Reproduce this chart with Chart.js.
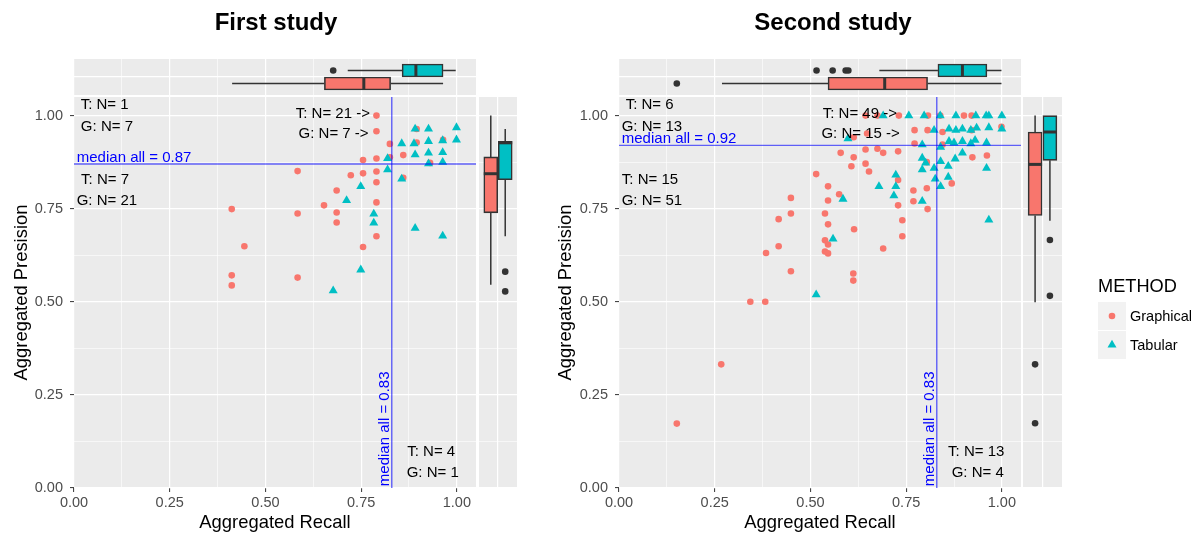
<!DOCTYPE html>
<html>
<head>
<meta charset="utf-8">
<script src="https://cdn.jsdelivr.net/npm/chart.js@4.4.0/dist/chart.umd.min.js"></script>
<style>
  body { margin: 0; background: #fff; font-family: "Liberation Sans", Arial, Helvetica, sans-serif; }
  #wrap { position: relative; width: 1200px; height: 541px; overflow: hidden; }
  #wrap canvas { position: absolute; left: 0; top: 0; }
  .title { position: absolute; top: 8px; font-weight: bold; font-size: 24px; line-height: 28px;
           transform: translateX(-50%); white-space: nowrap; color: #000; }
  #legend { position: absolute; left: 1098px; top: 275px; }
  .lgTitle { font-size: 18.2px; line-height: 22px; height: 26.5px; color: #000; }
  .lgRow { position: relative; height: 29px; }
  .lgKey { position: absolute; left: 0; top: 0; width: 28px; height: 28px; background: #F2F2F2; }
  .lgKey svg { display: block; }
  .lgLabel { position: absolute; left: 32px; top: 0; line-height: 28px; font-size: 14.5px; color: #000; white-space: nowrap; }
</style>
</head>
<body>
<div id="wrap">
  <canvas id="s1top" width="1200" height="541"></canvas>
  <canvas id="s1main" width="1200" height="541"></canvas>
  <canvas id="s1right" width="1200" height="541"></canvas>
  <canvas id="s2top" width="1200" height="541"></canvas>
  <canvas id="s2main" width="1200" height="541"></canvas>
  <canvas id="s2right" width="1200" height="541"></canvas>
  <div class="title" style="left:276px">First study</div>
  <div class="title" style="left:833px">Second study</div>
  <div id="legend"></div>
</div>
<script>
// tick labels, shared by both axes of both studies
const tickValues = [0, 0.25, 0.5, 0.75, 1];
const tickLabels = ['0.00', '0.25', '0.50', '0.75', '1.00'];

const methods = ['Graphical', 'Tabular'];
const methodColors = ['#F8766D', '#00BFC4'];

// First study - points
const s1GraphRecall = [0.790, 0.790, 0.825, 0.895, 0.895, 0.964, 0.860, 0.825, 0.790, 0.755, 0.930, 0.584, 0.723, 0.755, 0.790,
                       0.790, 0.860, 0.686, 0.653, 0.790, 0.412, 0.584, 0.686, 0.686, 0.790, 0.445, 0.755, 0.412, 0.412, 0.584];
const s1GraphPrec   = [1.000, 0.958, 0.924, 0.964, 0.928, 0.935, 0.894, 0.888, 0.885, 0.881, 0.873, 0.851, 0.840, 0.845, 0.850,
                       0.821, 0.833, 0.799, 0.759, 0.767, 0.749, 0.737, 0.740, 0.713, 0.676, 0.649, 0.647, 0.571, 0.544, 0.565];
const s1TabRecall = [0.891, 0.926, 0.999, 0.856, 0.888, 0.926, 0.963, 0.999, 0.891, 0.926, 0.963, 0.819,
                     0.926, 0.963, 0.819, 0.856, 0.749, 0.712, 0.783, 0.783, 0.891, 0.963, 0.749, 0.677];
const s1TabPrec   = [0.964, 0.964, 0.968, 0.925, 0.925, 0.931, 0.933, 0.935, 0.895, 0.900, 0.901, 0.885,
                     0.871, 0.875, 0.855, 0.830, 0.810, 0.772, 0.736, 0.712, 0.698, 0.677, 0.586, 0.530];
const s1MedianRecall = 0.83;
const s1MedianPrec = 0.87;
const s1Counts = ['T: N= 1', 'G: N= 7', 'T: N= 7', 'G: N= 21', 'T: N= 21 ->', 'G: N= 7 ->', 'T: N= 4', 'G: N= 1'];
// box stats: [lower whisker, q1, median, q3, upper whisker]
const s1RecallBoxG = [0.413, 0.654, 0.757, 0.827, 0.964];
const s1RecallBoxT = [0.715, 0.857, 0.893, 0.964, 0.997];
const s1RecallOutG = [];
const s1RecallOutT = [0.677];
const s1PrecBoxG = [0.546, 0.739, 0.844, 0.889, 1.000];
const s1PrecBoxT = [0.676, 0.828, 0.927, 0.931, 0.964];
const s1PrecOutG = [];
const s1PrecOutT = [0.581, 0.528];

// Second study - points
const s2GraphRecall = [0.644, 0.675, 0.731, 0.807, 0.839, 0.901, 0.921, 0.772, 0.806, 0.845, 0.921, 0.999, 0.613, 0.648, 0.772,
                       0.845, 0.579, 0.644, 0.675, 0.690, 0.729, 0.613, 0.804, 0.923, 0.961, 0.607, 0.644, 0.653, 0.515, 0.546,
                       0.575, 0.546, 0.449, 0.449, 0.417, 0.538, 0.546, 0.614, 0.740, 0.740, 0.538, 0.546, 0.538, 0.546, 0.417,
                       0.384, 0.449, 0.612, 0.612, 0.690, 0.729, 0.769, 0.804, 0.769, 0.729, 0.806, 0.869, 0.343, 0.382, 0.267, 0.151];
const s2GraphPrec   = [1.000, 1.000, 1.000, 1.000, 1.000, 1.000, 1.000, 0.961, 0.961, 0.956, 0.961, 0.970, 0.942, 0.952, 0.925,
                       0.922, 0.900, 0.909, 0.911, 0.900, 0.904, 0.888, 0.875, 0.888, 0.893, 0.864, 0.871, 0.850, 0.843, 0.810,
                       0.789, 0.772, 0.779, 0.737, 0.722, 0.737, 0.708, 0.695, 0.719, 0.676, 0.665, 0.654, 0.635, 0.630, 0.649,
                       0.631, 0.582, 0.576, 0.557, 0.643, 0.827, 0.799, 0.805, 0.770, 0.759, 0.749, 0.818, 0.500, 0.500, 0.332, 0.173];
const s2TabRecall = [0.690, 0.757, 0.797, 0.839, 0.880, 0.932, 0.959, 0.966, 1.000,
                     0.823, 0.862, 0.880, 0.897, 0.919, 0.934, 0.966, 1.000, 0.598,
                     0.792, 0.862, 0.875, 0.897, 0.919, 0.930, 0.960, 0.840,
                     0.792, 0.801, 0.840, 0.878, 0.897, 0.823, 0.860, 0.792, 0.826, 0.860, 0.840, 0.960,
                     0.723, 0.679, 0.723, 0.718, 0.585, 0.792, 0.559, 0.515, 0.966];
const s2TabPrec   = [1.000, 1.000, 1.000, 1.000, 1.000, 1.000, 1.000, 1.000, 1.000,
                     0.961, 0.964, 0.961, 0.964, 0.961, 0.967, 0.968, 0.964, 0.938,
                     0.922, 0.931, 0.927, 0.931, 0.925, 0.934, 0.927, 0.915,
                     0.886, 0.873, 0.877, 0.884, 0.900, 0.859, 0.864, 0.855, 0.830, 0.835, 0.810, 0.859,
                     0.841, 0.810, 0.810, 0.785, 0.776, 0.770, 0.669, 0.519, 0.720];
const s2MedianRecall = 0.83;
const s2MedianPrec = 0.92;
const s2Counts = ['T: N= 6', 'G: N= 13', 'T: N= 15', 'G: N= 51', 'T: N= 49 ->', 'G: N= 15 ->', 'T: N= 13', 'G: N= 4'];
const s2RecallBoxG = [0.269, 0.546, 0.694, 0.806, 0.999];
const s2RecallBoxT = [0.680, 0.833, 0.897, 0.961, 0.999];
const s2RecallOutG = [0.151];
const s2RecallOutT = [0.516, 0.558, 0.592, 0.599];
const s2PrecBoxG = [0.499, 0.732, 0.869, 0.956, 1.000];
const s2PrecBoxT = [0.718, 0.880, 0.956, 1.000, 1.000];
const s2PrecOutG = [0.332, 0.174];
const s2PrecOutT = [0.666, 0.516];

const FONT = '"Liberation Sans", Arial, Helvetica, sans-serif';
const LIM = 1.05;
const MEDIAN_LINE = 'rgba(0, 0, 255, 0.6)';
const BOX_LINE = '#333333';

Chart.defaults.font.family = FONT;

const minorTicks = tickValues.slice(1).map((v, i) => (v + tickValues[i]) / 2);
const gridTicks = tickValues.concat(minorTicks).sort((a, b) => a - b);
const majorIndex = v => tickValues.findIndex(t => Math.abs(t - v) < 1e-9);
const isMajor = v => majorIndex(v) >= 0;
const zip = (xs, ys) => xs.map((v, i) => ({ x: v, y: ys[i] }));

// grey panel background
const panelBg = {
  id: 'panelBg',
  beforeDraw(chart) {
    const { ctx, chartArea: a } = chart;
    ctx.save();
    ctx.fillStyle = '#EBEBEB';
    ctx.fillRect(a.left, a.top, a.right - a.left, a.bottom - a.top);
    ctx.restore();
  }
};

// annotation text drawn at data coordinates
function textPlugin(labels) {
  return {
    id: 'quadText',
    afterDatasetsDraw(chart) {
      const { ctx, scales: { x, y } } = chart;
      ctx.save();
      ctx.font = '15px ' + FONT;
      ctx.textBaseline = 'middle';
      labels.forEach(l => {
        const px = x.getPixelForValue(l.x);
        const py = y.getPixelForValue(l.y);
        ctx.fillStyle = l.color || '#000000';
        if (l.vertical) {
          ctx.save();
          ctx.translate(px, py);
          ctx.rotate(-Math.PI / 2);
          ctx.textAlign = 'left';
          ctx.fillText(l.text, 0, 0);
          ctx.restore();
        } else {
          ctx.textAlign = 'center';
          ctx.fillText(l.text, px, py);
        }
      });
      ctx.restore();
    }
  };
}

function panelAxis(title, tickPad, fit) {
  return {
    type: 'linear', min: 0, max: LIM, offset: false,
    afterBuildTicks: s => { s.ticks = gridTicks.map(v => ({ value: v })); },
    afterFit: fit,
    border: { display: false },
    grid: {
      color: '#FFFFFF', offset: false,
      lineWidth: c => (c.tick && !isMajor(c.tick.value)) ? 0.6 : 1.2,
      drawTicks: true, tickLength: 4, tickWidth: 1,
      tickColor: c => (c.tick && isMajor(c.tick.value)) ? '#333333' : 'rgba(0,0,0,0)'
    },
    ticks: {
      autoSkip: false, maxRotation: 0, minRotation: 0, padding: tickPad,
      color: '#4D4D4D', font: { size: 14.5 },
      callback: v => isMajor(v) ? tickLabels[majorIndex(v)] : ''
    },
    title: title
  };
}

function bareAxis(values, max, horizontal) {
  return {
    type: 'linear', min: 0, max: max, offset: false,
    afterBuildTicks: s => { s.ticks = values.map(v => ({ value: v })); },
    afterFit: s => { if (horizontal) s.height = 0; else s.width = 0; },
    border: { display: false },
    grid: {
      color: '#FFFFFF', offset: false, drawTicks: false,
      lineWidth: c => (c.tick && !isMajor(c.tick.value)) ? 0.6 : 1.2
    },
    ticks: { display: false }
  };
}

function scatterChart(id, pad, yWidth, g, t, medR, medP, labels) {
  new Chart(document.getElementById(id), {
    type: 'scatter',
    data: {
      datasets: [
        { label: methods[0], data: zip(g[0], g[1]), pointStyle: 'circle', pointRadius: 3.3,
          backgroundColor: methodColors[0], borderWidth: 0, order: 2 },
        { label: methods[1], data: zip(t[0], t[1]), pointStyle: 'triangle', pointRadius: 5.2,
          backgroundColor: methodColors[1], borderWidth: 0, order: 1 },
        { data: [{ x: medR, y: 0 }, { x: medR, y: LIM }], showLine: true, borderColor: MEDIAN_LINE,
          borderWidth: 1.4, pointRadius: 0, order: 0 },
        { data: [{ x: 0, y: medP }, { x: LIM, y: medP }], showLine: true, borderColor: MEDIAN_LINE,
          borderWidth: 1.4, pointRadius: 0, order: 0 }
      ]
    },
    options: {
      responsive: false, animation: false, events: [],
      layout: { padding: pad, autoPadding: false },
      plugins: { legend: { display: false }, tooltip: { enabled: false } },
      scales: {
        x: panelAxis({ display: true, text: 'Aggregated Recall', color: '#000000', font: { size: 18.4 },
                       padding: { top: 0, bottom: 7 } }, 2, s => { s.height = 53; }),
        y: panelAxis({ display: true, text: 'Aggregated Presision', color: '#000000', font: { size: 18.4 },
                       padding: { top: 11, bottom: 0 } }, 7, s => { s.width = yWidth; })
      }
    },
    plugins: [panelBg, textPlugin(labels)]
  });
}

function boxDatasets(stats, outliers, color, center, horizontal, thickness, half) {
  const pt = (v, c) => horizontal ? { x: v, y: c } : { x: c, y: v };
  const [lo, q1, med, q3, hi] = stats;
  const line = (data, w, order) => ({ type: 'scatter', data, showLine: true, borderColor: BOX_LINE,
    borderWidth: w, pointRadius: 0, fill: false, order });
  return [
    line([pt(lo, center), pt(q1, center)], 1.5, 3),
    line([pt(q3, center), pt(hi, center)], 1.5, 3),
    { type: 'bar', indexAxis: horizontal ? 'y' : 'x', grouped: false,
      barThickness: thickness, maxBarThickness: thickness,
      data: [horizontal ? { x: [q1, q3], y: center } : { x: center, y: [q1, q3] }],
      backgroundColor: color, borderColor: BOX_LINE, borderWidth: 1.6, borderSkipped: false, order: 2 },
    line([pt(med, center - half), pt(med, center + half)], 3, 1),
    { type: 'scatter', data: outliers.map(v => pt(v, center)), pointStyle: 'circle', pointRadius: 3.3,
      backgroundColor: BOX_LINE, borderWidth: 0, order: 0 }
  ];
}

function boxChart(id, pad, horizontal, panelPx, centers, thickness, gStats, gOut, tStats, tOut) {
  const half = thickness / 2 / panelPx;
  const datasets = boxDatasets(gStats, gOut, methodColors[0], centers[0], horizontal, thickness, half)
    .concat(boxDatasets(tStats, tOut, methodColors[1], centers[1], horizontal, thickness, half));
  const valueAxis = bareAxis(gridTicks, LIM, horizontal);
  const catAxis = bareAxis([0.5], 1, !horizontal);
  new Chart(document.getElementById(id), {
    type: 'scatter',
    data: { datasets },
    options: {
      responsive: false, animation: false, events: [],
      layout: { padding: pad, autoPadding: false },
      plugins: { legend: { display: false }, tooltip: { enabled: false } },
      scales: horizontal ? { x: valueAxis, y: catAxis } : { x: catAxis, y: valueAxis }
    },
    plugins: [panelBg]
  });
}

function countLabels(counts, medR, medP, arrowX) {
  return [
    { text: counts[0], x: 0.080, y: 1.030 },
    { text: counts[1], x: 0.086, y: 0.971 },
    { text: counts[2], x: 0.081, y: 0.827 },
    { text: counts[3], x: 0.086, y: 0.770 },
    { text: counts[4], x: arrowX, y: 1.005 },
    { text: counts[5], x: arrowX + 0.002, y: 0.952 },
    { text: counts[6], x: 0.933, y: 0.096 },
    { text: counts[7], x: 0.937, y: 0.041 },
    { text: 'median all = ' + medP.toFixed(2), x: 0.157, y: medP + 0.017, color: '#0000FF' },
    { text: 'median all = ' + medR.toFixed(2), x: medR - 0.018, y: 0.005, color: '#0000FF', vertical: true }
  ];
}

// First study
boxChart('s1top', { left: 74, right: 724, top: 59, bottom: 446 }, true, 36, [0.319, 0.681], 13,
         s1RecallBoxG, s1RecallOutG, s1RecallBoxT, s1RecallOutT);
scatterChart('s1main', { left: 0, right: 724, top: 97, bottom: 0 }, 74,
             [s1GraphRecall, s1GraphPrec], [s1TabRecall, s1TabPrec], s1MedianRecall, s1MedianPrec,
             countLabels(s1Counts, s1MedianRecall, s1MedianPrec, 0.676));
boxChart('s1right', { left: 479, right: 683, top: 97, bottom: 53 }, false, 38, [0.31, 0.69], 14,
         s1PrecBoxG, s1PrecOutG, s1PrecBoxT, s1PrecOutT);

// Second study
boxChart('s2top', { left: 619, right: 179, top: 59, bottom: 446 }, true, 36, [0.319, 0.681], 13,
         s2RecallBoxG, s2RecallOutG, s2RecallBoxT, s2RecallOutT);
scatterChart('s2main', { left: 544, right: 179, top: 97, bottom: 0 }, 75,
             [s2GraphRecall, s2GraphPrec], [s2TabRecall, s2TabPrec], s2MedianRecall, s2MedianPrec,
             countLabels(s2Counts, s2MedianRecall, s2MedianPrec, 0.629));
boxChart('s2right', { left: 1023, right: 138, top: 97, bottom: 53 }, false, 39, [0.31, 0.69], 14,
         s2PrecBoxG, s2PrecOutG, s2PrecBoxT, s2PrecOutT);

// Legend
const legend = document.getElementById('legend');
let html = '<div class="lgTitle">METHOD</div>';
methods.forEach((m, i) => {
  const shape = i === 0
    ? '<circle cx="14" cy="14" r="3.3" fill="' + methodColors[i] + '"/>'
    : '<polygon points="14,8.8 9.5,16.6 18.5,16.6" fill="' + methodColors[i] + '"/>';
  html += '<div class="lgRow"><div class="lgKey"><svg width="28" height="28">' + shape +
          '</svg></div><div class="lgLabel">' + m + '</div></div>';
});
legend.innerHTML = html;
</script>
</body>
</html>
